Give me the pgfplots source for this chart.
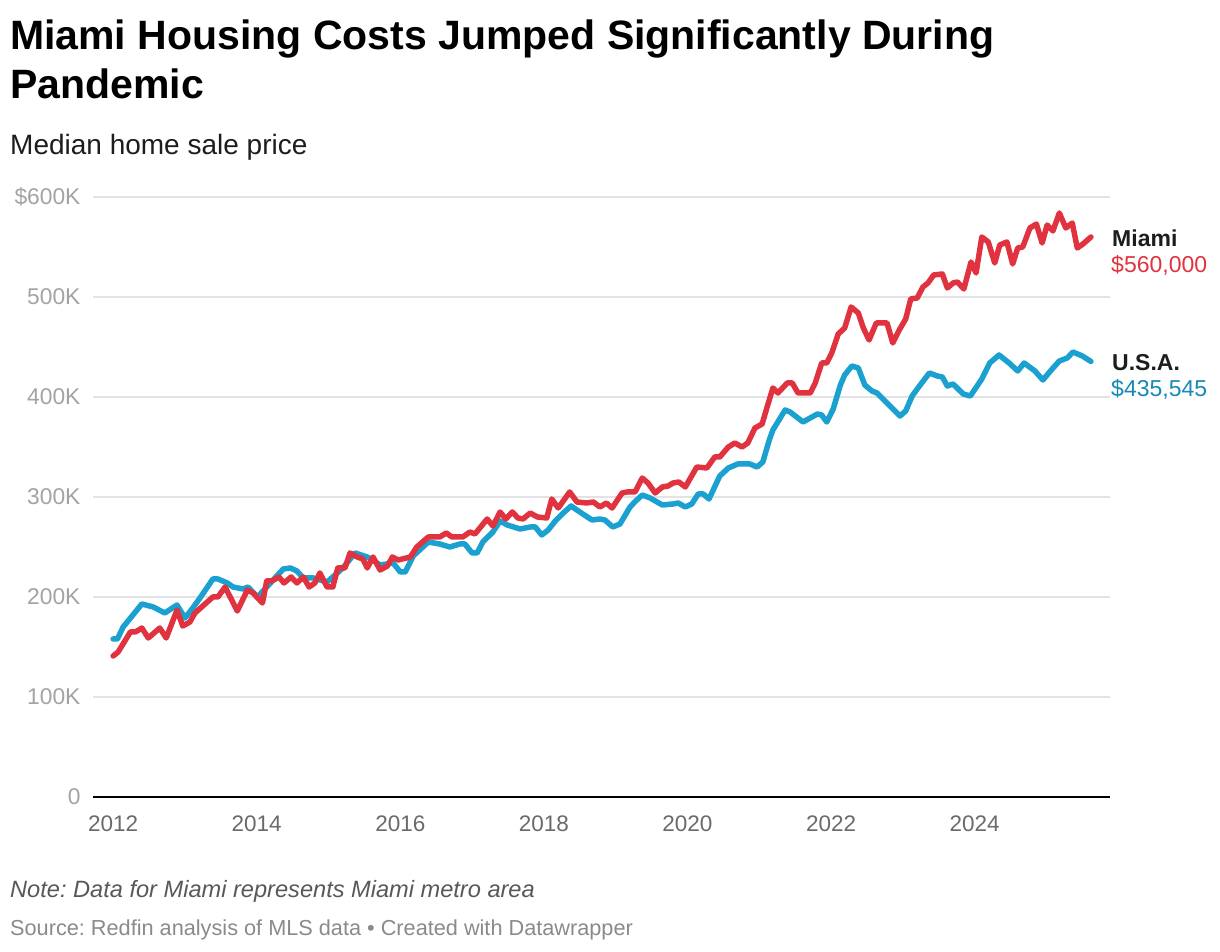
\documentclass[border=0pt]{standalone}
\usepackage{pgfplots}
\usepackage{pgfplotstable}
\usepackage{fontspec}
\pgfplotsset{compat=1.18}
\setmainfont{Liberation Sans}
\frenchspacing

\definecolor{miamired}{HTML}{E0323F}
\definecolor{usablue}{HTML}{1BA1CF}
\definecolor{usatext}{HTML}{1689B4}
\definecolor{gridgray}{HTML}{E3E3E3}
\definecolor{ygray}{HTML}{A3A3A3}
\definecolor{xgray}{HTML}{6A6A6A}
\definecolor{notegray}{HTML}{585858}
\definecolor{srcgray}{HTML}{8A8A8A}
\definecolor{labeldark}{HTML}{1D1D1D}

% median sale price, thousands of dollars, by month
\pgfplotstableread{
x y
2012.00 158
2012.06 158
2012.14 170
2012.40 193
2012.56 190
2012.72 184
2012.89 192
2013.00 179
2013.11 189
2013.21 199
2013.39 218
2013.46 218
2013.59 214
2013.67 210
2013.81 208
2013.88 210
2014.01 200
2014.14 210
2014.37 228
2014.47 229
2014.56 226
2014.65 219
2014.79 219
2014.98 215
2015.06 220
2015.20 229
2015.37 244
2015.54 240
2015.72 232
2015.90 234
2016.00 225
2016.07 225
2016.18 241
2016.39 255
2016.55 253
2016.69 250
2016.83 253
2016.90 253
2017.00 244
2017.07 244
2017.15 255
2017.29 265
2017.39 276
2017.49 272
2017.67 268
2017.81 270
2017.88 270
2017.97 262
2018.06 267
2018.16 276
2018.27 284
2018.38 291
2018.48 286
2018.67 277
2018.78 278
2018.85 277
2018.96 270
2019.06 273
2019.20 290
2019.28 296
2019.37 302
2019.48 299
2019.65 292
2019.80 293
2019.87 294
2019.97 290
2020.06 293
2020.15 303
2020.22 303
2020.30 298
2020.45 321
2020.57 329
2020.70 333
2020.87 333
2020.97 330
2021.05 335
2021.14 357
2021.19 367
2021.36 387
2021.43 385
2021.61 375
2021.81 383
2021.87 382
2021.94 375
2022.03 388
2022.13 412
2022.19 422
2022.29 431
2022.38 429
2022.47 412
2022.57 406
2022.64 404
2022.82 391
2022.96 381
2023.04 386
2023.13 401
2023.21 409
2023.37 424
2023.48 421
2023.55 420
2023.62 411
2023.70 413
2023.84 403
2023.94 401
2024.10 418
2024.21 434
2024.34 442
2024.48 434
2024.60 426
2024.69 434
2024.84 426
2024.95 417
2025.08 428
2025.18 436
2025.29 439
2025.37 445
2025.50 441
2025.62 435.545
}\usadata

\pgfplotstableread{
x y
2012.00 141
2012.07 145
2012.24 165
2012.31 165
2012.40 169
2012.49 159
2012.65 169
2012.74 159
2012.89 187
2012.97 171
2013.07 175
2013.14 184
2013.39 200
2013.46 200
2013.56 210
2013.73 186
2013.87 207
2013.95 204
2014.08 194
2014.14 216
2014.21 216
2014.31 220
2014.38 214
2014.48 220
2014.56 214
2014.65 220
2014.73 210
2014.81 214
2014.88 224
2014.98 210
2015.06 210
2015.13 229
2015.23 229
2015.30 244
2015.40 240
2015.48 238
2015.54 229
2015.62 240
2015.72 227
2015.82 231
2015.89 240
2015.97 237
2016.14 240
2016.23 250
2016.39 260
2016.55 260
2016.64 264
2016.72 260
2016.87 260
2016.97 265
2017.04 263
2017.21 278
2017.29 271
2017.39 285
2017.47 278
2017.56 285
2017.64 279
2017.71 278
2017.81 284
2017.91 280
2018.04 279
2018.11 298
2018.20 289
2018.36 305
2018.46 295
2018.60 294
2018.69 295
2018.78 290
2018.87 294
2018.95 289
2019.09 304
2019.16 305
2019.27 305
2019.37 319
2019.45 314
2019.55 304
2019.65 310
2019.73 311
2019.80 314
2019.88 315
2019.97 310
2020.13 330
2020.27 329
2020.38 340
2020.45 340
2020.57 350
2020.66 354
2020.76 350
2020.84 354
2020.94 369
2021.04 373
2021.11 390
2021.19 409
2021.26 404
2021.39 414
2021.46 414
2021.54 404
2021.71 404
2021.78 414
2021.87 434
2021.94 434
2022.01 444
2022.10 463
2022.19 469
2022.28 490
2022.38 484
2022.45 469
2022.53 457
2022.63 474
2022.78 474
2022.86 454
2022.95 467
2023.04 478
2023.11 498
2023.20 499
2023.28 510
2023.35 514
2023.43 522
2023.55 523
2023.62 509
2023.70 514
2023.76 515
2023.85 508
2023.95 535
2024.02 524
2024.10 560
2024.19 555
2024.28 534
2024.35 552
2024.45 555
2024.53 533
2024.60 549
2024.67 550
2024.77 569
2024.86 573
2024.94 554
2025.01 572
2025.09 566
2025.18 584
2025.27 569
2025.36 574
2025.43 549
2025.51 553
2025.62 560
}\miamidata

\begin{document}
\begin{tikzpicture}
\path[use as bounding box] (0,0) rectangle (1220pt,952pt);
\begin{axis}[
  at={(93pt,155pt)}, anchor=south west,
  scale only axis, width=1017pt, height=600pt,
  xmin=2011.72, xmax=2025.886, ymin=0, ymax=600,
  clip=false,
  axis line style={draw=none},
  major tick style={draw=none},
  /pgf/number format/assume math mode=true,
  ymajorgrids,
  grid style={gridgray, line width=1.6pt},
  ytick={100,200,300,400,500,600},
  yticklabels={100K,200K,300K,400K,500K,\$600K},
  extra y ticks={0},
  extra y tick labels={0},
  extra y tick style={grid style={black, line width=2pt}},
  yticklabel style={font=\fontsize{22.8}{26}\selectfont, text=ygray, anchor=east, xshift=-9pt},
  xtick={2012,2014,2016,2018,2020,2022,2024},
  xticklabels={2012,2014,2016,2018,2020,2022,2024},
  xticklabel style={font=\fontsize{22.5}{26}\selectfont, text=xgray, anchor=north, yshift=-15pt},
]
\addplot[usablue, line width=5.5pt, line join=round, line cap=round] table[x=x, y=y] {\usadata};
\addplot[miamired, line width=5.5pt, line join=round, line cap=round] table[x=x, y=y] {\miamidata};

\node[anchor=base west, inner sep=0, xshift=2pt, yshift=-9.5pt, text=labeldark, font=\bfseries\fontsize{23}{26}\selectfont] at (axis cs:2025.886,560) {Miami};
\node[anchor=base west, inner sep=0, xshift=1pt, yshift=-36pt, text=miamired, font=\fontsize{23}{26}\selectfont] at (axis cs:2025.886,560) {\$560,000};
\node[anchor=base west, inner sep=0, xshift=2pt, yshift=-9.5pt, text=labeldark, font=\bfseries\fontsize{23}{26}\selectfont] at (axis cs:2025.886,435.545) {U.S.A.};
\node[anchor=base west, inner sep=0, xshift=1pt, yshift=-35.5pt, text=usatext, font=\fontsize{23}{26}\selectfont] at (axis cs:2025.886,435.545) {\$435,545};
\end{axis}

\node[anchor=base west, inner sep=0, font=\bfseries\fontsize{41}{49}\selectfont] at (10pt,902pt) {Miami Housing Costs Jumped Significantly During};
\node[anchor=base west, inner sep=0, font=\bfseries\fontsize{41}{49}\selectfont] at (10pt,853pt) {Pandemic};
\node[anchor=base west, inner sep=0, text=labeldark, font=\fontsize{28}{32}\selectfont] at (10pt,797pt) {Median home sale price};
\node[anchor=base west, inner sep=0, text=notegray, font=\itshape\fontsize{23.6}{27}\selectfont] at (10pt,54pt) {Note: Data for Miami represents Miami metro area};
\node[anchor=base west, inner sep=0, text=srcgray, font=\fontsize{21.7}{25}\selectfont] at (10pt,16pt) {Source: Redfin analysis of MLS data • Created with Datawrapper};
\end{tikzpicture}
\end{document}
